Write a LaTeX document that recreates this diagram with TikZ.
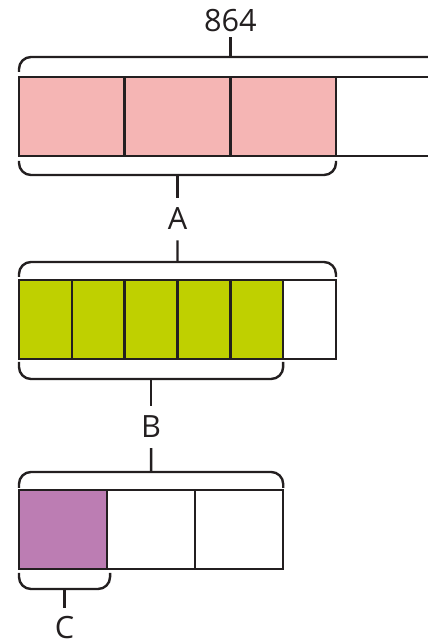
\documentclass[tikz,border=0pt]{standalone}
\usepackage{fontspec}
\setmainfont{Open Sans}
\usepackage{tikz}
\usetikzlibrary{positioning, calc}

\definecolor{ink}{RGB}{35,31,32}
\definecolor{barpink}{RGB}{245,181,180}
\definecolor{bargreen}{RGB}{191,208,0}
\definecolor{barpurple}{RGB}{188,125,179}

\begin{document}
\begin{tikzpicture}[
  x=0.75pt, y=0.75pt,
  cell/.style={rectangle, draw=ink, line width=1.8pt, outer sep=0pt, inner sep=0pt, minimum height=59.25pt},
  quarter/.style={cell, minimum width=79.25pt},
  sixth/.style={cell, minimum width=39.62pt},
  third/.style={cell, minimum width=66.05pt},
  brace/.style={draw=ink, line width=1.8pt, rounded corners=9pt},
  tick/.style={draw=ink, line width=1.8pt},
  lbl/.style={inner sep=7.5pt, text=ink, font=\fontsize{23}{28}\selectfont}
]
  \useasboundingbox (0,0) rectangle (428,642);
  \clip (0,0) rectangle (428,642);

  % whole: 864
  \node[quarter, fill=barpink, anchor=north west] (q1) at (19,565) {};
  \node[quarter, fill=barpink, right=0pt of q1] (q2) {};
  \node[quarter, fill=barpink, right=0pt of q2] (q3) {};
  \node[quarter, right=0pt of q3] (q4) {};

  \draw[brace] ($(q1.north west)+(0,5)$) -- ++(0,15)
    -- coordinate[midway] (wholetop) ($(q4.north east)+(0,20)$) -- ++(0,-15);
  \node[lbl, inner sep=3pt] (n864) at ($(wholetop)+(0,36)$) {864};
  \draw[tick] (wholetop) -- (n864);

  \draw[brace] ($(q1.south west)+(0,-5)$) -- ++(0,-14)
    -- coordinate[midway] (abot) ($(q3.south east)+(0,-19)$) -- ++(0,14);
  \node[lbl] (nA) at ($(abot)+(0,-44)$) {A};
  \draw[tick] (abot) -- (nA);

  % A split in sixths
  \node[sixth, fill=bargreen, anchor=north west] (s1) at (19,362) {};
  \node[sixth, fill=bargreen, right=0pt of s1] (s2) {};
  \node[sixth, fill=bargreen, right=0pt of s2] (s3) {};
  \node[sixth, fill=bargreen, right=0pt of s3] (s4) {};
  \node[sixth, fill=bargreen, right=0pt of s4] (s5) {};
  \node[sixth, right=0pt of s5] (s6) {};

  \draw[brace] ($(s1.north west)+(0,3)$) -- ++(0,15)
    -- coordinate[midway] (atop) ($(s6.north east)+(0,18)$) -- ++(0,-15);
  \draw[tick] (nA) -- (atop);

  \draw[brace] ($(s1.south west)+(0,-3)$) -- ++(0,-17)
    -- coordinate[midway] (bbot) ($(s5.south east)+(0,-20)$) -- ++(0,17);
  \node[lbl] (nB) at ($(bbot)+(0,-48)$) {B};
  \draw[tick] (bbot) -- (nB);

  % B split in thirds
  \node[third, fill=barpurple, anchor=north west] (t1) at (19,152) {};
  \node[third, right=0pt of t1] (t2) {};
  \node[third, right=0pt of t2] (t3) {};

  \draw[brace] ($(t1.north west)+(0,2)$) -- ++(0,16)
    -- coordinate[midway] (btop) ($(t3.north east)+(0,18)$) -- ++(0,-16);
  \draw[tick] (nB) -- (btop);

  \draw[brace] ($(t1.south west)+(0,-4)$) -- ++(0,-16)
    -- coordinate[midway] (cbot) ($(t1.south east)+(3,-20)$) -- ++(0,16);
  \node[lbl, inner sep=6pt] (nC) at ($(cbot)+(0,-39)$) {C};
  \draw[tick] (cbot) -- (nC);
\end{tikzpicture}
\end{document}
